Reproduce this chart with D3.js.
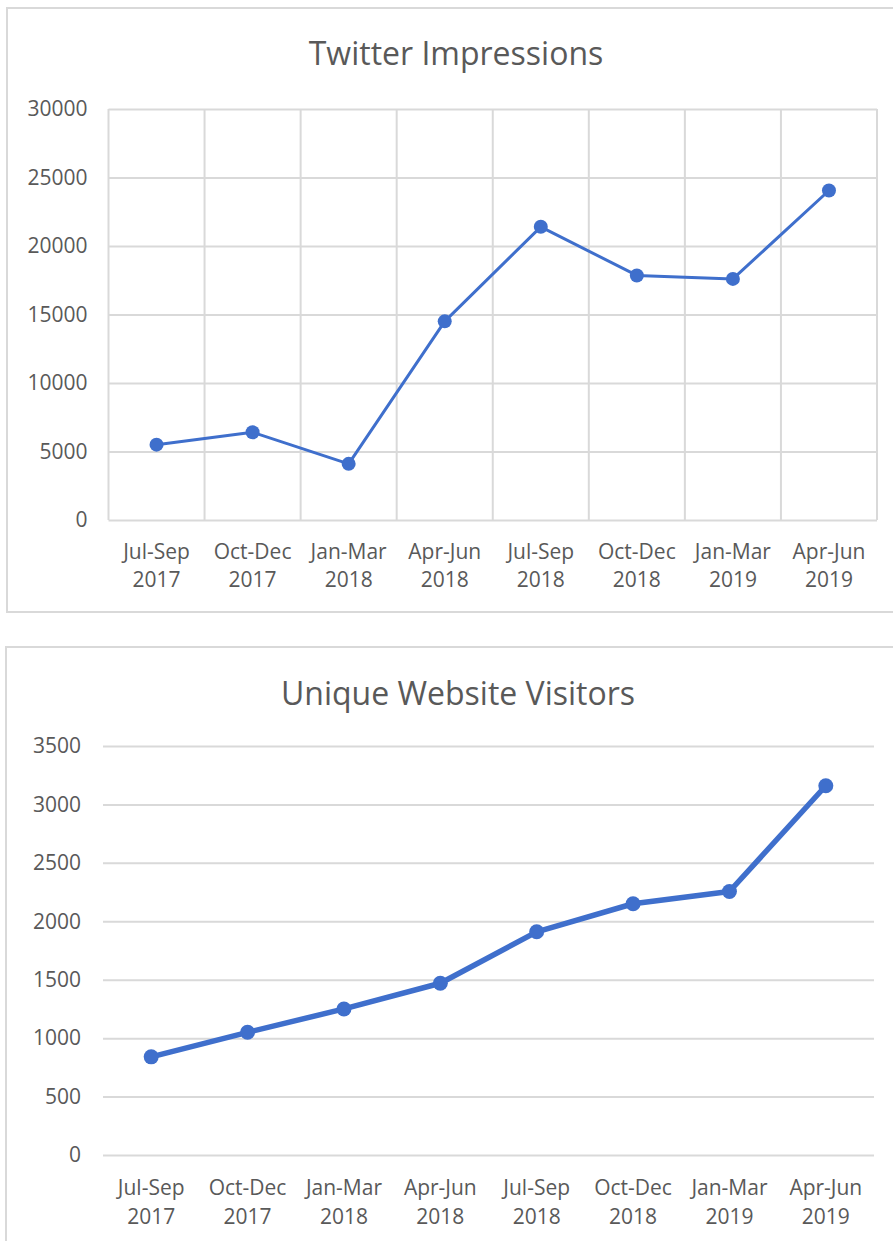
<!DOCTYPE html>
<html>
<head>
<meta charset="utf-8">
<script src="https://cdn.jsdelivr.net/npm/d3@7"></script>
<style>
  html, body { margin: 0; padding: 0; background: #ffffff; }
  svg { display: block; }
  text { font-family: "Open Sans", "Noto Sans", sans-serif; fill: #595959; }
</style>
</head>
<body>
<svg id="chart" width="893" height="1241"></svg>
<script>
// ---- data ----
const categories = ["Jul-Sep 2017", "Oct-Dec 2017", "Jan-Mar 2018", "Apr-Jun 2018",
                    "Jul-Sep 2018", "Oct-Dec 2018", "Jan-Mar 2019", "Apr-Jun 2019"];
const impressions = [5500, 6400, 4100, 14500, 21400, 17850, 17600, 24050];
const visitors = [840, 1050, 1250, 1470, 1910, 2150, 2255, 3160];
const impressionTicks = [0, 5000, 10000, 15000, 20000, 25000, 30000];
const visitorTicks = [0, 500, 1000, 1500, 2000, 2500, 3000, 3500];
const titles = ["Twitter Impressions", "Unique Website Visitors"];

const svg = d3.select("#chart");
const BLUE = "#3f6fcc";
const GRID = "#d9d9d9";

function panel(cfg) {
  // panel border
  svg.append("rect")
    .attr("x", cfg.box[0]).attr("y", cfg.box[1])
    .attr("width", cfg.box[2]).attr("height", cfg.box[3])
    .attr("fill", "#fff").attr("stroke", GRID).attr("stroke-width", 2);

  const x = d3.scaleBand().domain(categories).range([cfg.left, cfg.right]).padding(0);
  const y = d3.scaleLinear().domain([0, d3.max(cfg.ticks)]).range([cfg.bottom, cfg.top]);

  // title
  svg.append("text")
    .attr("x", cfg.titleX).attr("y", cfg.titleY)
    .attr("text-anchor", "middle")
    .style("font-size", "32px")
    .text(cfg.title);

  // horizontal gridlines + y labels
  const yAxis = d3.axisLeft(y).tickValues(cfg.ticks)
    .tickSize(-(cfg.right - cfg.left)).tickPadding(cfg.tickPad)
    .tickFormat(d3.format("d"));
  const gy = svg.append("g").attr("transform", `translate(${cfg.left},0)`).call(yAxis);
  gy.select(".domain").remove();
  gy.selectAll(".tick line").attr("stroke", GRID).attr("stroke-width", 2);
  gy.selectAll(".tick text").style("font-size", "21px").attr("fill", "#595959").attr("font-family", null);

  // vertical gridlines (band edges)
  if (cfg.vgrid) {
    const edges = d3.range(categories.length + 1).map(i => x.range()[0] + i * x.step());
    svg.append("g").selectAll("line").data(edges).join("line")
      .attr("x1", d => d).attr("x2", d => d)
      .attr("y1", y(d3.max(cfg.ticks))).attr("y2", y(0))
      .attr("stroke", GRID).attr("stroke-width", 2);
  }

  // x labels (two lines)
  const gx = svg.append("g");
  categories.forEach(c => {
    const parts = c.split(" ");
    const t = gx.append("text")
      .attr("x", x(c) + x.bandwidth() / 2)
      .attr("y", cfg.labelY)
      .attr("text-anchor", "middle")
      .style("font-size", "21px");
    t.append("tspan").attr("x", x(c) + x.bandwidth() / 2).text(parts[0]);
    t.append("tspan").attr("x", x(c) + x.bandwidth() / 2).attr("dy", cfg.labelDy).text(parts[1]);
  });

  // line + markers
  const line = d3.line()
    .x((d, i) => x(categories[i]) + x.bandwidth() / 2)
    .y(d => y(d));
  svg.append("path").datum(cfg.values)
    .attr("d", line).attr("fill", "none")
    .attr("stroke", BLUE).attr("stroke-width", cfg.lineW)
    .attr("stroke-linejoin", "round").attr("stroke-linecap", "round");
  svg.append("g").selectAll("circle").data(cfg.values).join("circle")
    .attr("cx", (d, i) => x(categories[i]) + x.bandwidth() / 2)
    .attr("cy", d => y(d))
    .attr("r", cfg.r)
    .attr("fill", BLUE);
}

panel({
  box: [7, 8, 900, 604],
  title: titles[0], titleX: 456, titleY: 65,
  left: 108.5, right: 877, top: 109, bottom: 520,
  ticks: impressionTicks, tickPad: 21, vgrid: true,
  labelY: 559, labelDy: 28,
  values: impressions, lineW: 3, r: 7
});

panel({
  box: [6, 647, 900, 620],
  title: titles[1], titleX: 458, titleY: 705,
  left: 103, right: 874, top: 746, bottom: 1155,
  ticks: visitorTicks, tickPad: 22, vgrid: false,
  labelY: 1195, labelDy: 29,
  values: visitors, lineW: 5.5, r: 7.5
});
</script>
</body>
</html>
